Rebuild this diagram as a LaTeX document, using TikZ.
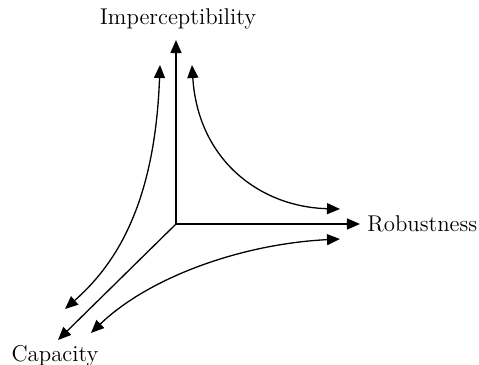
\documentclass[tikz,border=0pt]{standalone}
\usepackage{fontspec}
\usetikzlibrary{positioning,arrows.meta}
\tikzset{
  every node/.append style={font=\fontsize{11.4}{13}\selectfont},
  lbl/.style={inner sep=1pt, text=black},
  axis/.style={-{Triangle[length=6.5pt,width=5.5pt]}, line width=0.65pt},
  trade/.style={{Triangle[length=6.5pt,width=5.5pt]}-{Triangle[length=6.5pt,width=5.5pt]}, line width=0.65pt},
}
\begin{document}
\begin{tikzpicture}[x=0.5pt,y=-0.5pt]
  \useasboundingbox (0,0) rectangle (479,365);
  % --- axes ---
  \coordinate (O) at (176,224);
  \coordinate (imptip) at (176,40);
  \coordinate (robtip) at (360,224);
  \coordinate (captip) at (58,340);
  \node[lbl, above=4pt of imptip, xshift=1pt] (imp) {Imperceptibility};
  \node[lbl, right=2.5pt of robtip] (rob) {Robustness};
  \node[lbl, below=1.5pt of captip, xshift=-1.5pt] (cap) {Capacity};
  \draw[axis] (O) -- (imptip);
  \draw[axis] (O) -- (robtip);
  \draw[axis] (O) -- (captip);
  % --- trade-off curves ---
  \coordinate (ic1) at (160,65);  \coordinate (ic2) at (65,309);
  \coordinate (ir1) at (192,65);  \coordinate (ir2) at (340,209);
  \coordinate (rc1) at (340,239); \coordinate (rc2) at (91,333);
  \draw[trade] (ic1) .. controls (155,205) and (115,265) .. (ic2);
  \draw[trade] (ir1) .. controls (198,160) and (260,207) .. (ir2);
  \draw[trade] (rc1) .. controls (240,244) and (148,278) .. (rc2);
\end{tikzpicture}
\end{document}
